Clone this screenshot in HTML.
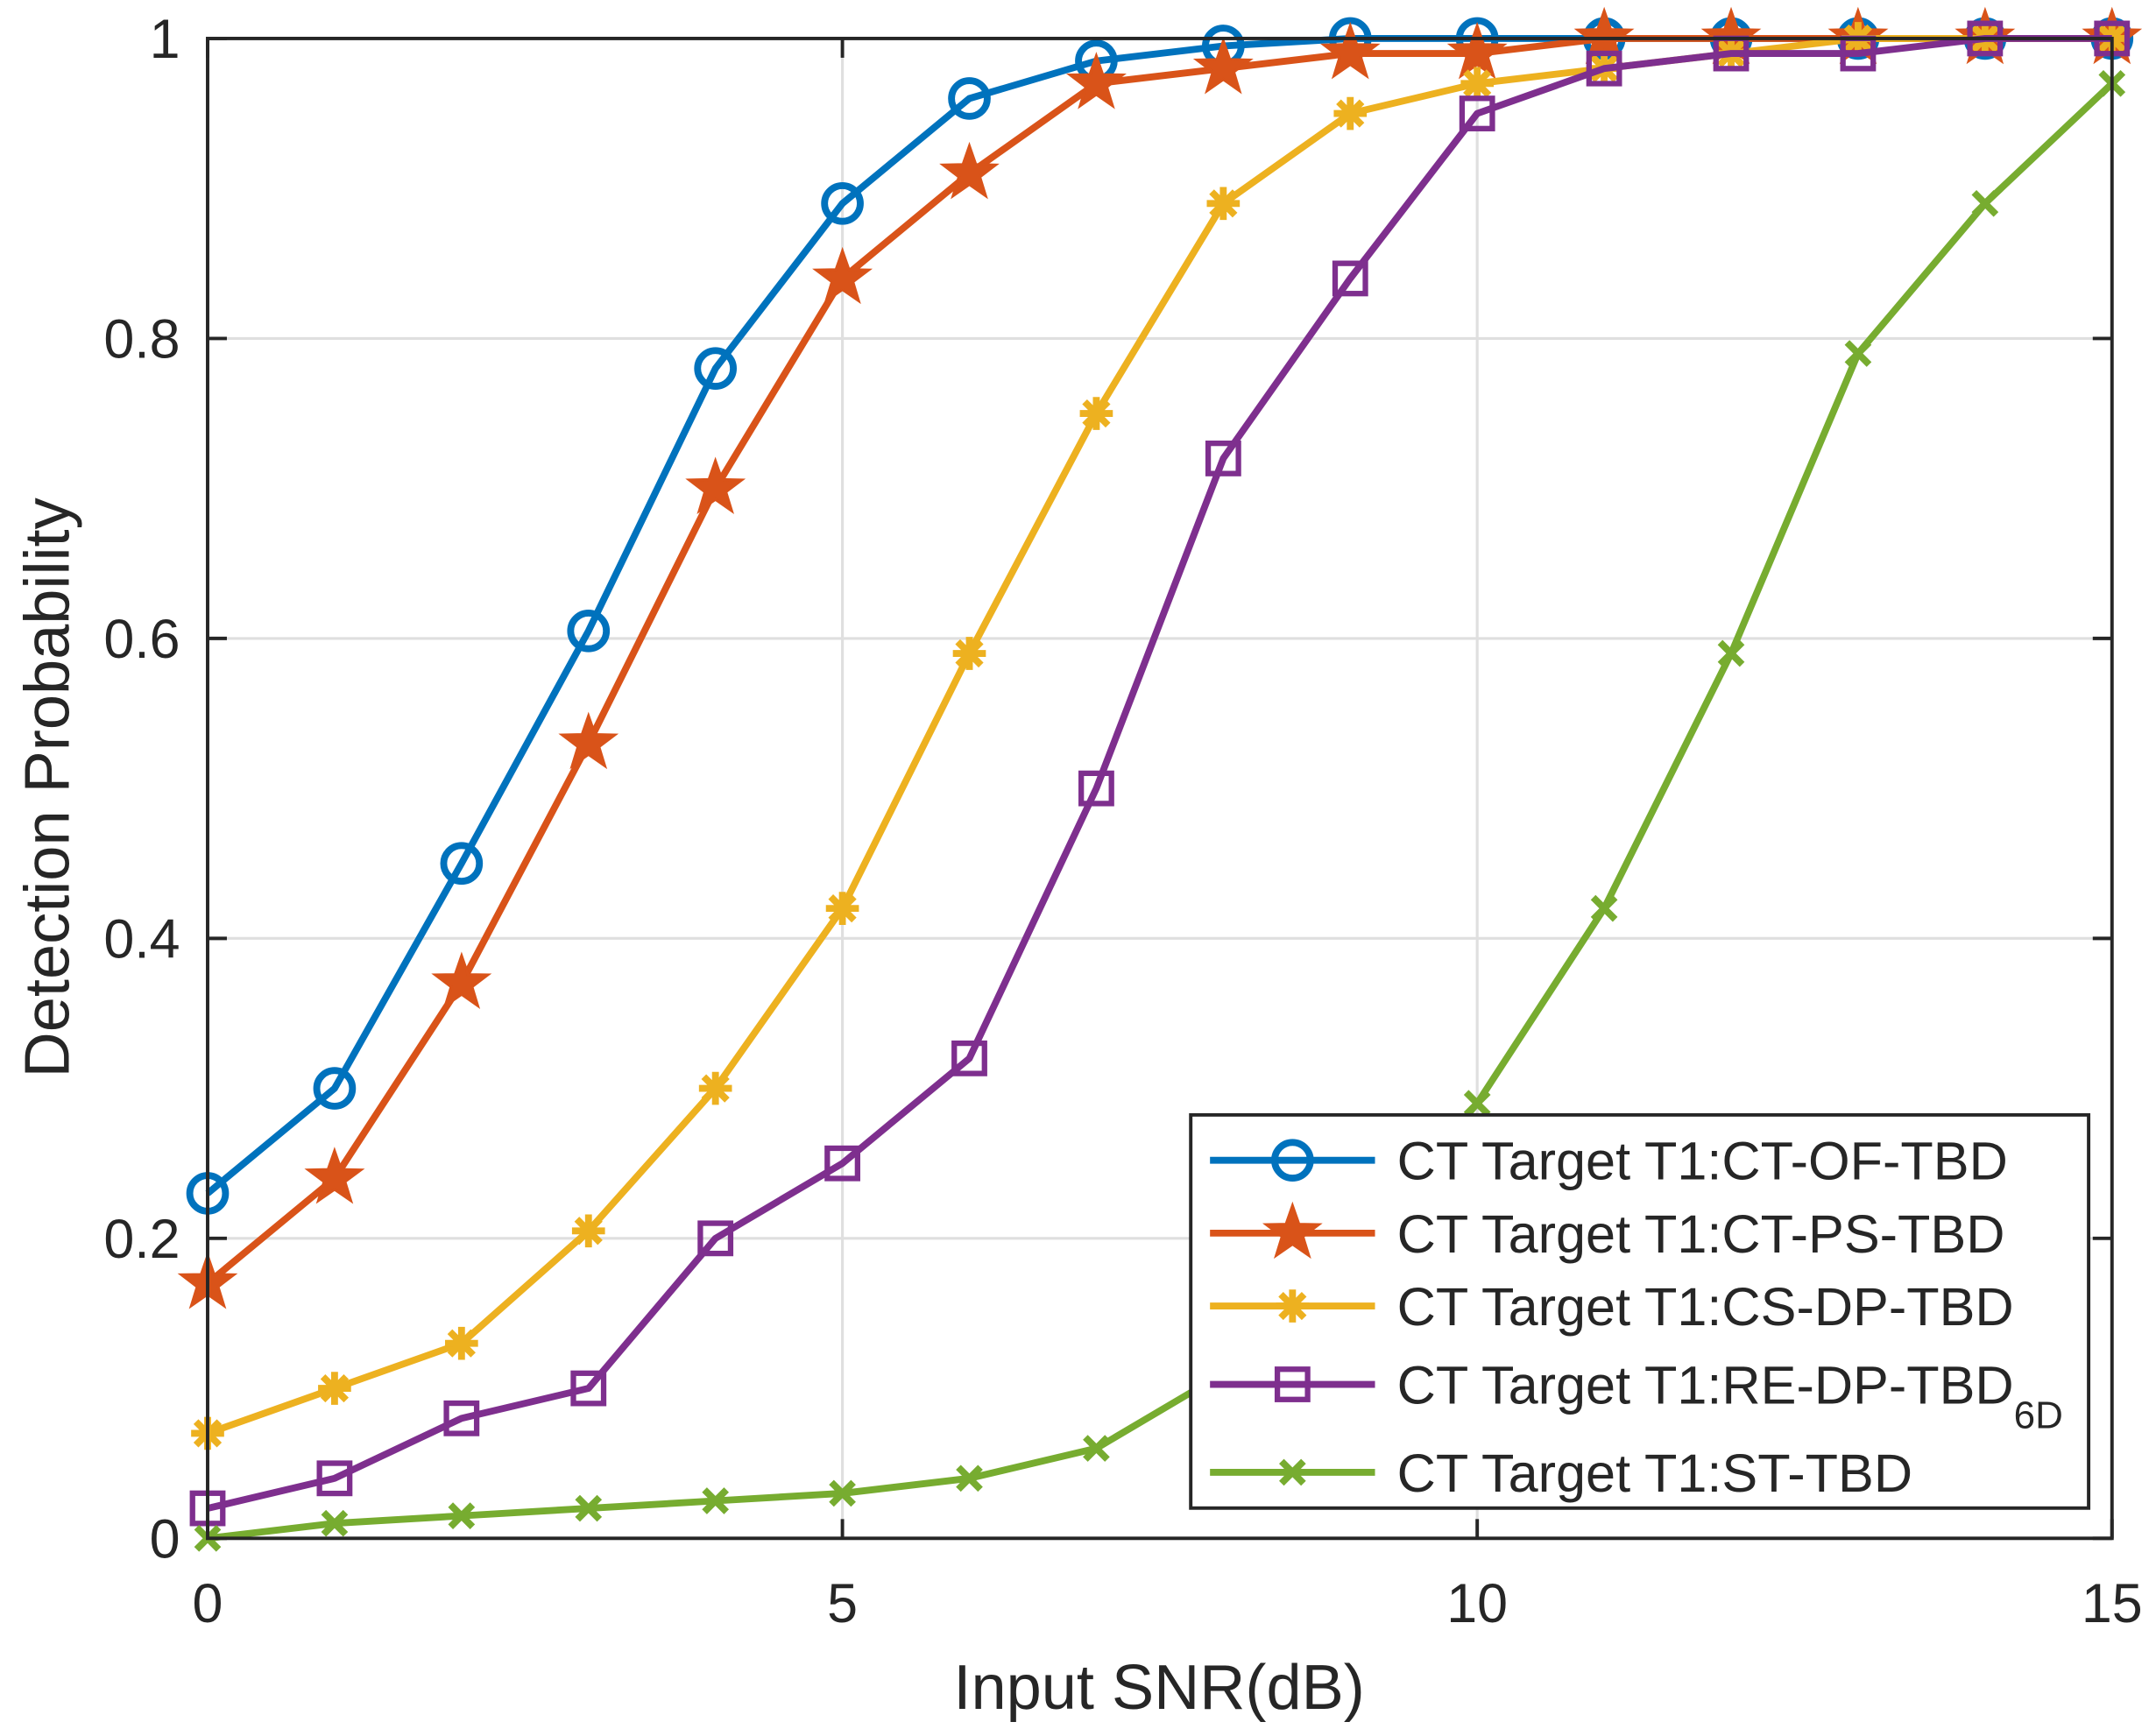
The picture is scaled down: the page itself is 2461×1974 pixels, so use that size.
<!DOCTYPE html>
<html><head><meta charset="utf-8"><style>html,body{margin:0;padding:0;background:#fff}svg{display:block}</style></head>
<body>
<svg id="s" width="2461" height="1974" viewBox="0 0 1568 1257.7" preserveAspectRatio="none" xmlns="http://www.w3.org/2000/svg" font-family="Liberation Sans, sans-serif" fill="#262626"></svg>
<script>
var s=document.getElementById('s'),h='';
var X0=151,X1=1536,Y0=1119,Y1=28;
function px(x){return X0+(X1-X0)*x/15}function py(y){return Y0+(Y1-Y0)*y}
h+='<rect x="0" y="0" width="1568" height="1258" fill="#fff"/>';
for(var i=0;i<=15;i+=5){var x=px(i);h+='<line x1="'+x+'" y1="'+Y1+'" x2="'+x+'" y2="'+Y0+'" stroke="#dfdfdf" stroke-width="2"/>';}
for(var j=0;j<=5;j++){var y=py(j*0.2);h+='<line x1="'+X0+'" y1="'+y+'" x2="'+X1+'" y2="'+y+'" stroke="#dfdfdf" stroke-width="2"/>';}
for(var i=0;i<=15;i+=5){var x=px(i);h+='<line x1="'+x+'" y1="'+Y0+'" x2="'+x+'" y2="'+(Y0-14)+'" stroke="#262626" stroke-width="2.5"/><line x1="'+x+'" y1="'+Y1+'" x2="'+x+'" y2="'+(Y1+14)+'" stroke="#262626" stroke-width="2.5"/>';
h+='<text x="'+x+'" y="1180" font-size="40" text-anchor="middle">'+i+'</text>';}
var yl=['0','0.2','0.4','0.6','0.8','1'];
for(var j=0;j<=5;j++){var y=py(j*0.2);h+='<line x1="'+X0+'" y1="'+y+'" x2="'+(X0+14)+'" y2="'+y+'" stroke="#262626" stroke-width="2.5"/><line x1="'+X1+'" y1="'+y+'" x2="'+(X1-14)+'" y2="'+y+'" stroke="#262626" stroke-width="2.5"/>';
h+='<text x="131" y="'+(y+14)+'" font-size="40" text-anchor="end">'+yl[j]+'</text>';}
h+='<text x="843" y="1243" font-size="46" text-anchor="middle">Input SNR(dB)</text>';
h+='<text transform="translate(50,573) rotate(-90)" font-size="46" text-anchor="middle">Detection Probability</text>';
var S=[
['#0072BD','o',[0.23,0.30,0.45,0.605,0.78,0.89,0.96,0.985,0.995,1,1,1,1,1,1,1]],
['#D95319','star',[0.17,0.24,0.37,0.53,0.70,0.84,0.91,0.97,0.98,0.99,0.99,1,1,1,1,1]],
['#EDB120','ast',[0.07,0.10,0.13,0.205,0.30,0.42,0.59,0.75,0.89,0.95,0.97,0.98,0.99,1,1,1]],
['#7E2F8E','sq',[0.02,0.04,0.08,0.10,0.20,0.25,0.32,0.50,0.72,0.84,0.95,0.98,0.99,0.99,1,1]],
['#77AC30','x',[0,0.01,0.015,0.02,0.025,0.03,0.04,0.06,0.11,0.19,0.29,0.42,0.59,0.79,0.89,0.97]]];
function mk(t,x,y,c){
 if(t=='o')return '<circle cx="'+x+'" cy="'+y+'" r="13" fill="none" stroke="'+c+'" stroke-width="5"/>';
 if(t=='sq')return '<rect x="'+(x-11)+'" y="'+(y-11)+'" width="22" height="22" fill="none" stroke="'+c+'" stroke-width="4"/>';
 if(t=='x')return '<path d="M'+(x-8)+' '+(y-8)+'L'+(x+8)+' '+(y+8)+'M'+(x-8)+' '+(y+8)+'L'+(x+8)+' '+(y-8)+'" stroke="'+c+'" stroke-width="5"/>';
 if(t=='ast'){var r=12,d='';for(var k=0;k<4;k++){var a=k*Math.PI/4;d+='M'+(x-r*Math.cos(a))+' '+(y-r*Math.sin(a))+'L'+(x+r*Math.cos(a))+' '+(y+r*Math.sin(a));}
  return '<path d="'+d+'" stroke="'+c+'" stroke-width="5"/>';}
 if(t=='star'){var p=[];for(var k=0;k<10;k++){var a=-Math.PI/2+k*Math.PI/5,r=k%2?8:20;p.push((x+r*Math.cos(a)).toFixed(1)+','+(y+r*Math.sin(a)).toFixed(1));}
  return '<polygon points="'+p.join(' ')+'" fill="'+c+'" stroke="'+c+'" stroke-width="2"/>';}
}
S.forEach(function(sr){var pts=sr[2].map(function(v,i){return px(i)+','+py(v)});
 h+='<polyline points="'+pts.join(' ')+'" fill="none" stroke="'+sr[0]+'" stroke-width="5" stroke-linejoin="round"/>';
 sr[2].forEach(function(v,i){h+=mk(sr[1],px(i),py(v),sr[0]);});});
h+='<rect x="'+X0+'" y="'+Y1+'" width="'+(X1-X0)+'" height="'+(Y0-Y1)+'" fill="none" stroke="#262626" stroke-width="2.5"/>';
h+='<rect x="866" y="811" width="653" height="286" fill="#fff" stroke="#262626" stroke-width="2.5"/>';
var L=[['CT Target T1:CT-OF-TBD',844],['CT Target T1:CT-PS-TBD',897],['CT Target T1:CS-DP-TBD',950],['CT Target T1:RE-DP-TBD',1007],['CT Target T1:ST-TBD',1071]];
L.forEach(function(l,i){var c=S[i][0],y=l[1];
 h+='<line x1="880" y1="'+y+'" x2="1000" y2="'+y+'" stroke="'+c+'" stroke-width="5"/>'+mk(S[i][1],940,y,c);
 h+='<text x="1016" y="'+(y+14)+'" font-size="39">'+l[0]+(i==3?'<tspan font-size="28" dy="18">6D</tspan>':'')+'</text>';});
s.innerHTML=h;
</script>
</body></html>
